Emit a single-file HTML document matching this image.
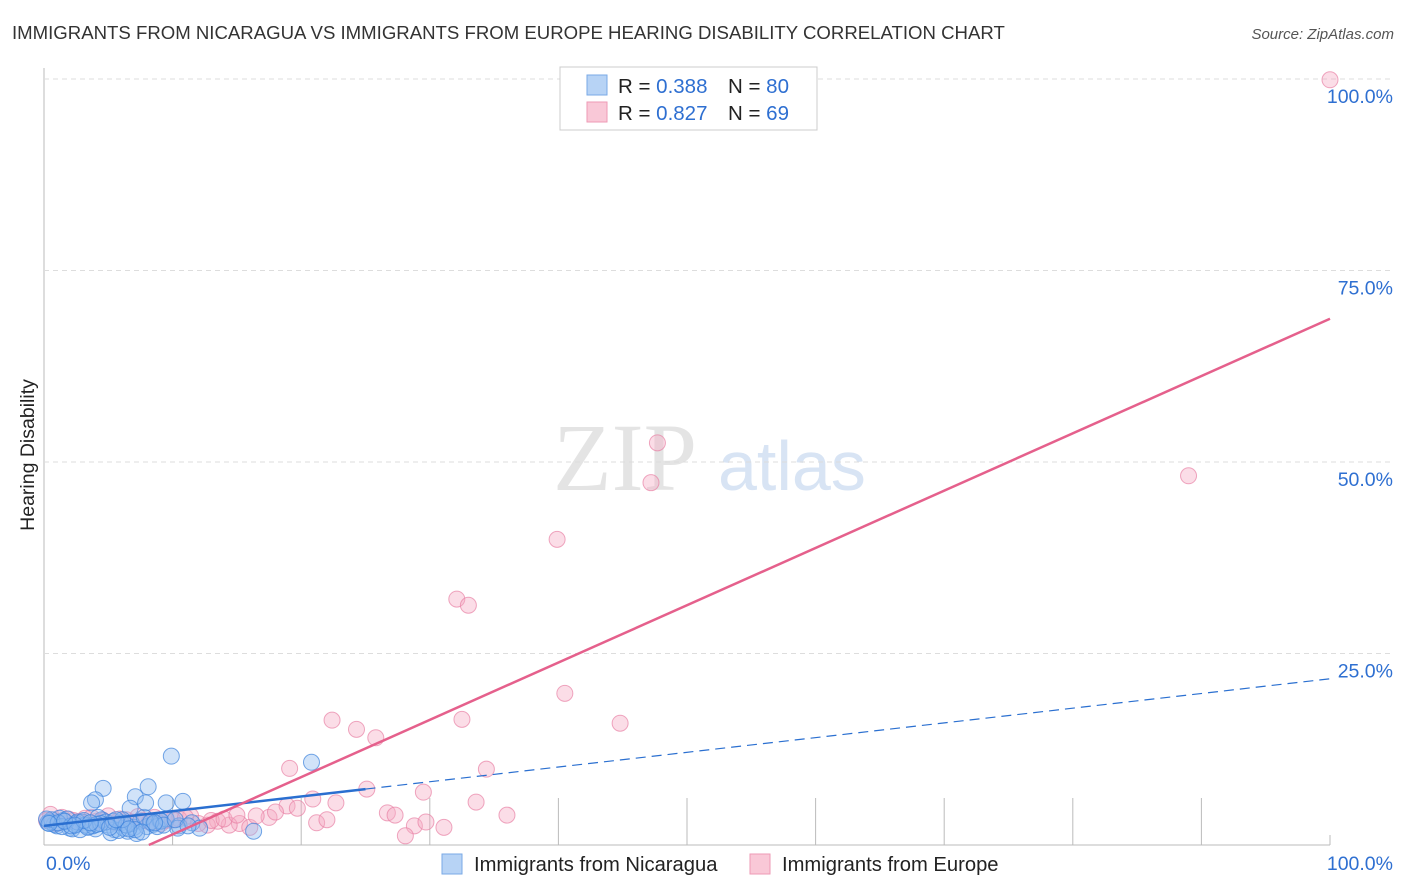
<!DOCTYPE html>
<html><head><meta charset="utf-8"><style>
body{margin:0;background:#fff;font-family:"Liberation Sans",sans-serif;}
#wrap{position:relative;width:1406px;height:892px;overflow:hidden;}
</style></head><body>
<div id="wrap">
<svg id="svg" width="1406" height="892" xmlns="http://www.w3.org/2000/svg">
<text x="12" y="39" font-size="18.6" fill="#333">IMMIGRANTS FROM NICARAGUA VS IMMIGRANTS FROM EUROPE HEARING DISABILITY CORRELATION CHART</text>
<text x="1394" y="39" font-size="15" fill="#555" font-style="italic" text-anchor="end">Source: ZipAtlas.com</text>
<text x="34" y="455" font-size="19.5" fill="#222" text-anchor="middle" transform="rotate(-90 34 455)">Hearing Disability</text>
<text x="553" y="490" font-size="96" fill="#e4e4e4" font-family="Liberation Serif,serif">ZIP</text>
<text x="718" y="490" font-size="70" fill="#d8e4f4">atlas</text>
<g id="grid"></g><g id="marks"></g>
<g>
<rect x="560" y="67" width="257" height="63" fill="#fff" stroke="#ccc"/>
<rect x="587" y="75" width="20" height="20" fill="#b7d3f5" stroke="#7aa9e6"/>
<rect x="587" y="102" width="20" height="20" fill="#f9c8d7" stroke="#ee9ab5"/>
<text x="618" y="93" font-size="20.5" fill="#222">R = <tspan fill="#2e6fd1">0.388</tspan><tspan x="728">N = </tspan><tspan fill="#2e6fd1">80</tspan></text>
<text x="618" y="120" font-size="20.5" fill="#222">R = <tspan fill="#2e6fd1">0.827</tspan><tspan x="728">N = </tspan><tspan fill="#2e6fd1">69</tspan></text>
</g>
<g>
<rect x="442" y="854" width="20" height="20" fill="#b7d3f5" stroke="#7aa9e6"/>
<text x="474" y="871" font-size="20.2" fill="#222">Immigrants from Nicaragua</text>
<rect x="750" y="854" width="20" height="20" fill="#f9c8d7" stroke="#ee9ab5"/>
<text x="782" y="871" font-size="20.2" fill="#222">Immigrants from Europe</text>
</g>
</svg>
</div>
<script>
const blueX=[0.5,1,1.5,2,2.5,3,3.5,4,4.5,5,5.5,6,6.5,7,7.5,8,8.5,9,1.2,2.2,3.2,4.2,5.2,6.2,7.2,0.8,1.8,2.8,3.8,4.8,5.8,6.8,7.8,8.8,9.5,10.5,11.5,12.1,10.4,9.1,16.3,9.9,20.8,4.6,8.1,4.0,7.1,10.8,9.5,3.7,7.9,6.7,0.3,0.6,1.4,2.6,3.4,4.4,5.4,6.4,0.2,1.1,2.1,3.1,4.1,5.1,6.1,7.1,8.3,9.3,0.4,1.6,2.4,3.6,5.6,6.6,7.6,8.6,10.2,11.2];
const blueY=[3,2.5,3.2,2.2,2.8,3,2.4,2.1,3.3,2.6,2,2.9,1.8,2.3,3.1,2.4,2.7,3.2,3.5,2.1,2.6,3.6,1.6,2.2,1.5,2.7,3.4,2,2.5,3,1.9,2.8,3.6,2.4,3.4,2.5,2.9,2.2,2.2,3.1,1.8,11.6,10.8,7.4,7.6,5.9,6.3,5.7,5.5,5.5,5.5,4.8,2.9,3.3,2.4,3,2.3,2.8,3.1,2.6,3.4,2.9,2.5,3.2,2.7,2.3,3.3,2,3,2.6,2.8,3.1,2.6,2.9,3.3,2.1,1.7,2.9,3.3,2.5];
const pinkX=[100,47.7,47.2,89,39.9,32.1,33,40.5,44.8,32.5,22.4,24.3,25.8,19.1,34.4,25.1,29.5,20.9,22.7,33.6,18.9,19.7,26.7,27.3,36,28.8,29.7,28.1,31.1,21.2,22,17.5,15.2,16,14.4,13.5,12.7,11.4,10.5,9.5,8.6,7.7,6.8,5.9,5,4.1,3.2,2.3,1.4,0.5,0.2,1,1.9,2.8,3.7,4.6,5.5,6.4,7.3,8.2,9.1,10,11,12,13,14,15,16.5,18];
const pinkY=[99.9,52.5,47.3,48.2,39.9,32.1,31.3,19.8,15.9,16.4,16.3,15.1,14,10,9.9,7.3,6.9,6,5.5,5.6,5.1,4.8,4.2,3.9,3.9,2.5,3,1.2,2.3,2.9,3.3,3.6,2.8,2.3,2.6,3.1,2.6,3.8,3.4,3.2,3.6,3.2,3,3.4,3.8,3.1,3.5,3.2,3.6,4,3.2,2.8,3.4,3,3.6,3.2,2.9,3.3,3.7,3,2.8,3.3,3.6,2.8,3.2,3.4,3.9,3.8,4.3];
const yTicks=[25,50,75,100];
const X=v=>44+v*12.86, Y=v=>845-v*7.66;
const ns='http://www.w3.org/2000/svg';
const g=document.getElementById('grid'), m=document.getElementById('marks');
function mk(tag,at,par){const e=document.createElementNS(ns,tag);for(const k in at)e.setAttribute(k,at[k]);par.appendChild(e);return e;}
let ax=mk('line',{x1:44,y1:68,x2:44,y2:845,stroke:'#bbb'},g);


let bx=mk('line',{x1:44,y1:845,x2:1330,y2:845,stroke:'#bbb'},g);


yTicks.forEach(t=>{
 let l=mk('line',{x1:44,y1:Y(t),x2:1394,y2:Y(t),stroke:'#ddd','stroke-dasharray':'5,4'},g);
 
 
 let tx=mk('text',{x:1393,y:Y(t)+24,'font-size':19.5,fill:'#2e6fd1','text-anchor':'end'},g);
 tx.textContent=t.toFixed(1)+'%';
 
 
});
for(let i=1;i<=10;i++){let l=mk('line',{x1:X(i*10),y1:845,x2:X(i*10),y2:i==10?835:798,stroke:'#bbb'},g);
 
 }
let x0=mk('text',{x:46,y:870,'font-size':19.5,fill:'#2e6fd1'},g);x0.textContent='0.0%';


let x1=mk('text',{x:1393,y:870,'font-size':19.5,fill:'#2e6fd1','text-anchor':'end'},g);x1.textContent='100.0%';


pinkX.forEach((v,i)=>{let c=mk('circle',{cx:X(v),cy:Y(pinkY[i]),r:8,fill:'rgba(246,170,195,0.4)',stroke:'rgba(232,130,165,0.7)'},m);
 
 });
blueX.forEach((v,i)=>{let c=mk('circle',{cx:X(v),cy:Y(blueY[i]),r:8,fill:'rgba(140,185,240,0.4)',stroke:'rgba(60,130,220,0.7)'},m);
 
 });
const bI=2.5,bS=0.192,pI=-6.1,pS=0.748;
let bl=mk('line',{x1:X(0),y1:Y(bI),x2:X(25),y2:Y(bI+25*bS),stroke:'#2a6fd0','stroke-width':2.5},m);


let bd=mk('line',{x1:X(25),y1:Y(bI+25*bS),x2:X(100),y2:Y(bI+100*bS),stroke:'#2a6fd0','stroke-width':1.2,'stroke-dasharray':'10,6'},m);


let pl=mk('line',{x1:X(-pI/pS),y1:Y(0),x2:X(100),y2:Y(pI+100*pS),stroke:'#e5608c','stroke-width':2.5},m);


</script>
</body></html>
